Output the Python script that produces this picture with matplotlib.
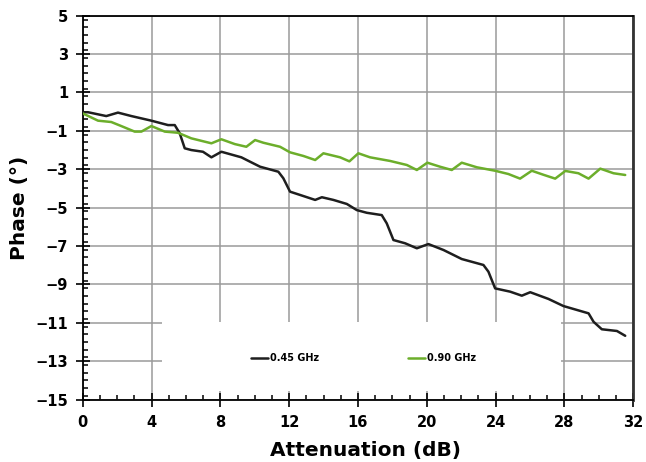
import matplotlib
matplotlib.use("Agg")
import matplotlib.pyplot as plt
from matplotlib.ticker import MultipleLocator
from matplotlib.patches import Rectangle

# Data: Attenuation (dB) vs Phase (deg)
atten_045 = [0, 0.31, 1.37, 2.05, 2.83, 3.99, 4.96, 5.35, 5.64, 5.93, 6.31, 6.99, 7.48,
             8.06, 9.22, 9.73, 10.31, 11.37, 11.66, 12.05, 12.63, 13.51, 13.9, 14.57,
             15.35, 15.93, 16.51, 17.38, 17.67, 18.06, 18.74, 19.42, 20.09, 20.97,
             22.03, 23.29, 23.58, 23.97, 24.84, 25.52, 26.01, 27.07, 27.94, 29.4,
             29.69, 30.17, 31.05, 31.53]
phase_045 = [-0.03, -0.03, -0.23, -0.05, -0.23, -0.47, -0.70, -0.70, -1.13, -1.91, -2.00,
             -2.09, -2.38, -2.09, -2.38, -2.61, -2.87, -3.13, -3.47, -4.17, -4.34, -4.60,
             -4.46, -4.60, -4.81, -5.13, -5.27, -5.39, -5.82, -6.69, -6.86, -7.12, -6.90,
             -7.21, -7.68, -7.99, -8.34, -9.21, -9.38, -9.59, -9.41, -9.76, -10.13,
             -10.51, -10.95, -11.34, -11.43, -11.68]

atten_090 = [0, 0.89, 1.66, 2.24, 3.02, 3.41, 3.99, 4.77, 5.54, 6.31, 7.48, 8.06, 8.84,
             9.51, 10.02, 10.5, 11.47, 12.05, 12.83, 13.51, 13.99, 14.96, 15.5, 16.02,
             16.7, 17.87, 18.84, 19.42, 20.03, 20.77, 21.45, 22.03, 22.91, 23.97, 24.74,
             25.42, 26.1, 26.78, 27.46, 28.05, 28.81, 29.4, 30.08, 30.85, 31.53]
phase_090 = [-0.09, -0.47, -0.54, -0.75, -1.04, -1.04, -0.75, -1.04, -1.10, -1.39, -1.65,
             -1.44, -1.69, -1.83, -1.48, -1.62, -1.83, -2.12, -2.31, -2.52, -2.17, -2.38,
             -2.59, -2.17, -2.38, -2.57, -2.78, -3.04, -2.66, -2.87, -3.04, -2.66, -2.90,
             -3.08, -3.25, -3.49, -3.08, -3.29, -3.49, -3.09, -3.21, -3.49, -2.97, -3.21,
             -3.30]

series_labels = ["0.45 GHz", "0.90 GHz"]
x_ticks = list(range(0, 33, 4))
y_ticks = list(range(-15, 6, 2))

W, H = 646, 462
fig = plt.figure(figsize=(W / 100, H / 100), dpi=100)
L, R, T, B = 82.7, 633.3, 15.7, 399.5
ax = fig.add_axes([L / W, 1 - B / H, (R - L) / W, (B - T) / H])

ax.plot(atten_045, phase_045, color="#1e1e1e", lw=1.8, label=series_labels[0],
        solid_joinstyle="round", solid_capstyle="round", zorder=3)
ax.plot(atten_090, phase_090, color="#6cae2b", lw=1.8, label=series_labels[1],
        solid_joinstyle="round", solid_capstyle="round", zorder=3)

ax.set_xlim(0, 32)
ax.set_ylim(-15, 5)
ax.set_xticks(x_ticks)
ax.set_yticks(y_ticks)
ax.xaxis.set_minor_locator(MultipleLocator(1))
ax.yaxis.set_minor_locator(MultipleLocator(0.4))

ax.grid(True, which="major", color="#9a9a9a", lw=1.1)
ax.tick_params(which="major", direction="inout", length=10, width=1.2,
               labelsize=10.5, color="black")
ax.tick_params(axis="y", which="major", pad=5.5)
ax.tick_params(axis="x", which="major", pad=6)
ax.tick_params(which="minor", direction="in", length=3.6, width=1.1, color="black")
for lab in ax.get_xticklabels() + ax.get_yticklabels():
    lab.set_fontweight("bold")

for s in ["left", "bottom", "top"]:
    ax.spines[s].set_color("black")
    ax.spines[s].set_linewidth(1.3)
ax.spines["right"].set_color("#333333")
ax.spines["right"].set_linewidth(2.0)

# white legend area covering the grid
ax.add_patch(Rectangle((0.144, 0.021), 0.869 - 0.144, 0.203 - 0.021,
                       transform=ax.transAxes, facecolor="white",
                       edgecolor="none", zorder=1.7))

ax.legend(loc="center", bbox_to_anchor=(0.51, 0.107), ncol=2, frameon=False,
          prop=dict(weight="bold", size=7), handlelength=1.75,
          handletextpad=0.15, columnspacing=9.2)

ax.set_xlabel("Attenuation (dB)", fontsize=14.5, fontweight="bold")
ax.set_ylabel("Phase (°)", fontsize=14.5, fontweight="bold")
ax.xaxis.set_label_coords(0.513, -0.108)
ax.yaxis.set_label_coords(-0.097, 0.5)

fig.savefig("out.png", dpi=100)
